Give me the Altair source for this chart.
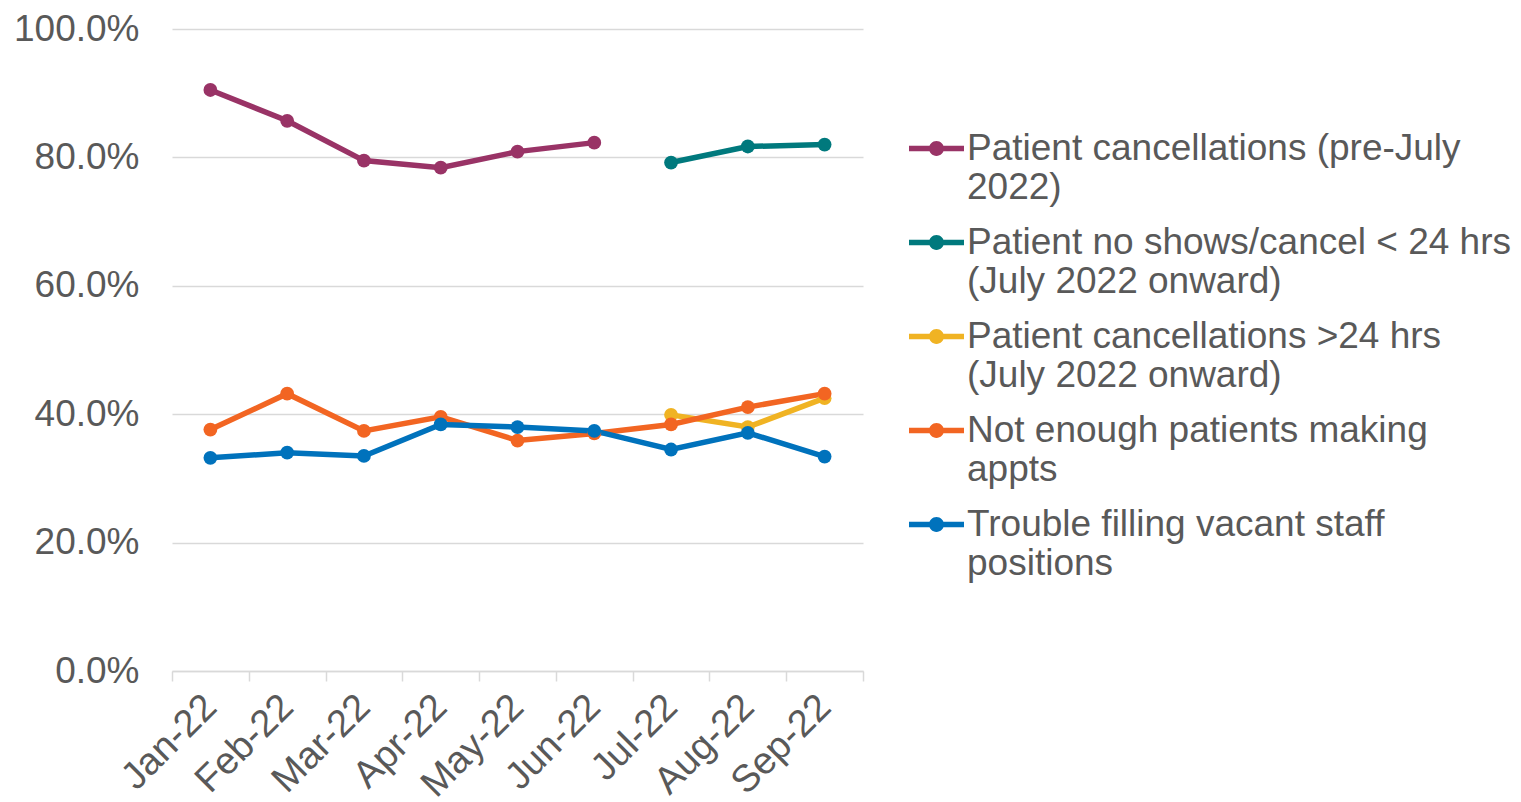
import altair as alt
import pandas as pd

months = ["Jan-22", "Feb-22", "Mar-22", "Apr-22", "May-22", "Jun-22", "Jul-22", "Aug-22", "Sep-22"]

series_names = [
    "Patient cancellations (pre-July 2022)",
    "Patient no shows/cancel < 24 hrs (July 2022 onward)",
    "Patient cancellations >24 hrs (July 2022 onward)",
    "Not enough patients making appts",
    "Trouble filling vacant staff positions",
]
series_colors = ["#993366", "#00797D", "#F0B323", "#F26522", "#0072BC"]

pre_july_cancel = [0.905, 0.857, 0.795, 0.784, 0.809, 0.823, None, None, None]
no_shows = [None, None, None, None, None, None, 0.792, 0.817, 0.820]
cancel_24 = [None, None, None, None, None, None, 0.399, 0.380, 0.425]
not_enough = [0.376, 0.432, 0.374, 0.396, 0.359, 0.370, 0.384, 0.411, 0.432]
trouble = [0.332, 0.340, 0.335, 0.384, 0.380, 0.374, 0.345, 0.371, 0.334]

all_values = [pre_july_cancel, no_shows, cancel_24, not_enough, trouble]

rows = []
for si, (name, vals) in enumerate(zip(series_names, all_values)):
    for m, v in zip(months, vals):
        if v is not None:
            rows.append({"month": m, "series": name, "value": v, "order": si})
df = pd.DataFrame(rows)

label_map = {
    "Patient cancellations (pre-July 2022)": ["Patient cancellations (pre-July", "2022)"],
    "Patient no shows/cancel < 24 hrs (July 2022 onward)": ["Patient no shows/cancel < 24 hrs", "(July 2022 onward)"],
    "Patient cancellations >24 hrs (July 2022 onward)": ["Patient cancellations >24 hrs", "(July 2022 onward)"],
    "Not enough patients making appts": ["Not enough patients making", "appts"],
    "Trouble filling vacant staff positions": ["Trouble filling vacant staff", "positions"],
}
expr_parts = []
for k, v in label_map.items():
    expr_parts.append(f"datum.label == '{k}' ? ['{v[0]}', '{v[1]}']")
label_expr = " : ".join(expr_parts) + " : datum.label"

FONT = "Liberation Sans"
GREY = "#595959"

symbol_path = (
    "M-1,-0.1 L1,-0.1 L1,0.1 L-1,0.1 Z "
    "M0.27,0 A0.27,0.27 0 1,1 -0.27,0 A0.27,0.27 0 1,1 0.27,0 Z"
)

color_scale = alt.Scale(domain=series_names, range=series_colors)

base = alt.Chart(df).encode(
    x=alt.X(
        "month:N",
        sort=months,
        scale=alt.Scale(domain=months, paddingInner=0, paddingOuter=0),
        axis=alt.Axis(
            title=None,
            labelAngle=-45,
            labelAlign="right",
            labelBaseline="middle",
            labelFontSize=38,
            labelColor=GREY,
            labelFont=FONT,
            labelPadding=20,
            tickBand="extent",
            ticks=True,
            tickSize=10,
            tickColor="#D9D9D9",
            tickWidth=1.5,
            domainColor="#D9D9D9",
            domainWidth=1.5,
            grid=False,
        ),
    ),
    y=alt.Y(
        "value:Q",
        scale=alt.Scale(domain=[0, 1]),
        axis=alt.Axis(
            title=None,
            format=".1%",
            values=[0, 0.2, 0.4, 0.6, 0.8, 1.0],
            labelFontSize=37,
            labelColor=GREY,
            labelFont=FONT,
            labelPadding=33,
            ticks=False,
            domain=False,
            gridColor="#D9D9D9",
            gridWidth=1.5,
        ),
    ),
    color=alt.Color(
        "series:N",
        scale=color_scale,
        sort=series_names,
        legend=alt.Legend(
            title=None,
            orient="none",
            legendX=737,
            legendY=92,
            symbolType=symbol_path,
            symbolSize=3025,
            symbolStrokeWidth=0,
            labelFontSize=37,
            labelFont=FONT,
            labelColor=GREY,
            labelExpr=label_expr,
            labelLimit=700,
            labelOffset=3,
            rowPadding=9,
            labelBaseline="middle",
        ),
    ),
    order=alt.Order("order:Q"),
)

lines = base.mark_line(strokeWidth=5.5)
points = base.mark_point(filled=True, size=190, opacity=1)

chart = (
    alt.layer(lines, points)
    .properties(width=691, height=642, padding={"left": 5, "top": 2, "right": 0, "bottom": 0})
    .configure_view(stroke=None)
    .configure_legend(symbolFillColor=None)
)

chart.save("out.html", embed_options={"renderer": "svg", "actions": False})
